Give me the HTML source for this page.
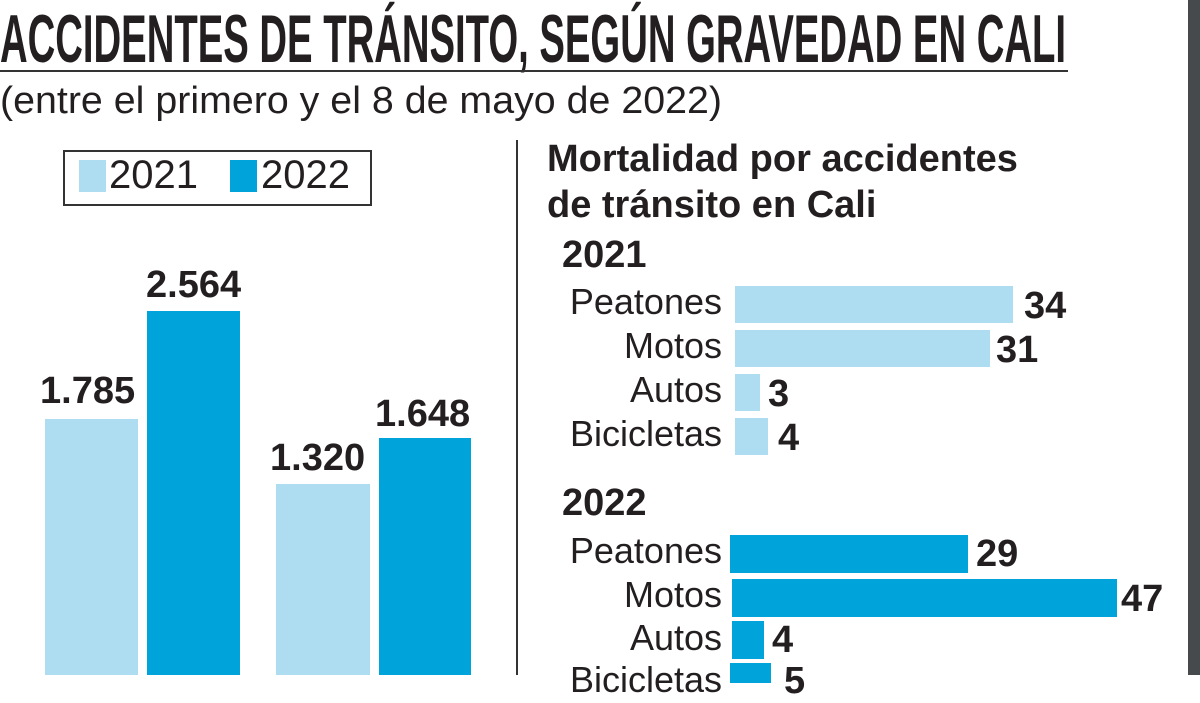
<!DOCTYPE html>
<html><head><meta charset="utf-8"><style>
body{margin:0;width:1200px;height:675px;overflow:hidden;background:#fff;position:relative;font-family:"Liberation Sans",sans-serif;color:#231f20}
div{position:absolute}
.t{white-space:nowrap}
.l{background:#aedcf0}.d{background:#00a3da}
.v{font-weight:bold;font-size:38px;white-space:nowrap}
.lab{font-size:36px;text-align:right;width:200px;white-space:nowrap}
svg{position:absolute;left:0;top:0}
</style></head><body>
<svg width="1200" height="130">
<text x="0" y="62" font-family="Liberation Sans" font-weight="bold" font-size="68" fill="#231f20" textLength="1066" lengthAdjust="spacingAndGlyphs">ACCIDENTES DE TRÁNSITO, SEGÚN GRAVEDAD EN CALI</text>
<text x="0" y="113" font-family="Liberation Sans" font-size="38" fill="#231f20" textLength="722" lengthAdjust="spacingAndGlyphs">(entre el primero y el 8 de mayo de 2022)</text>
</svg>
<div style="left:0;top:70px;width:1068px;height:2px;background:#333"></div>
<div style="left:63px;top:150px;width:305px;height:52px;border:2px solid #333"></div>
<div class="l" style="left:79px;top:160px;width:27px;height:32px"></div>
<div class="t" style="left:109px;top:153px;font-size:40px">2021</div>
<div class="d" style="left:230px;top:160px;width:27px;height:32px"></div>
<div class="t" style="left:261px;top:153px;font-size:40px">2022</div>
<div class="l" style="left:45px;top:419px;width:93px;height:256px"></div>
<div class="d" style="left:147px;top:311px;width:93px;height:364px"></div>
<div class="l" style="left:276px;top:484px;width:94px;height:191px"></div>
<div class="d" style="left:379px;top:438px;width:92px;height:237px"></div>
<div class="v" style="left:40px;top:370px">1.785</div>
<div class="v" style="left:146px;top:264px">2.564</div>
<div class="v" style="left:270px;top:437px">1.320</div>
<div class="v" style="left:375px;top:393px">1.648</div>
<div style="left:516px;top:140px;width:2px;height:535px;background:#333"></div>
<div class="t" style="left:547px;top:136px;font-size:38px;font-weight:bold;line-height:46px">Mortalidad por accidentes<br>de tránsito en Cali</div>
<div class="v" style="left:562px;top:234px">2021</div>
<div class="lab" style="left:522px;top:281px">Peatones</div>
<div class="lab" style="left:522px;top:325px">Motos</div>
<div class="lab" style="left:522px;top:369px">Autos</div>
<div class="lab" style="left:522px;top:413px">Bicicletas</div>
<div class="l" style="left:735px;top:286px;width:278px;height:37px"></div>
<div class="l" style="left:735px;top:330px;width:255px;height:37px"></div>
<div class="l" style="left:735px;top:374px;width:25px;height:37px"></div>
<div class="l" style="left:735px;top:418px;width:33px;height:37px"></div>
<div class="v" style="left:1024px;top:285px">34</div>
<div class="v" style="left:996px;top:329px">31</div>
<div class="v" style="left:768px;top:373px">3</div>
<div class="v" style="left:778px;top:417px">4</div>
<div class="v" style="left:562px;top:482px">2022</div>
<div class="lab" style="left:522px;top:530px">Peatones</div>
<div class="lab" style="left:522px;top:574px">Motos</div>
<div class="lab" style="left:522px;top:617px">Autos</div>
<div class="lab" style="left:522px;top:659px">Bicicletas</div>
<div class="d" style="left:730px;top:535px;width:238px;height:38px"></div>
<div class="d" style="left:732px;top:579px;width:385px;height:38px"></div>
<div class="d" style="left:732px;top:621px;width:32px;height:38px"></div>
<div class="d" style="left:730px;top:663px;width:41px;height:20px"></div>
<div class="v" style="left:976px;top:533px">29</div>
<div class="v" style="left:1121px;top:578px">47</div>
<div class="v" style="left:772px;top:619px">4</div>
<div class="v" style="left:784px;top:660px">5</div>
<div style="left:1188px;top:0;width:12px;height:675px;background:#464a4d"></div>
</body></html>
